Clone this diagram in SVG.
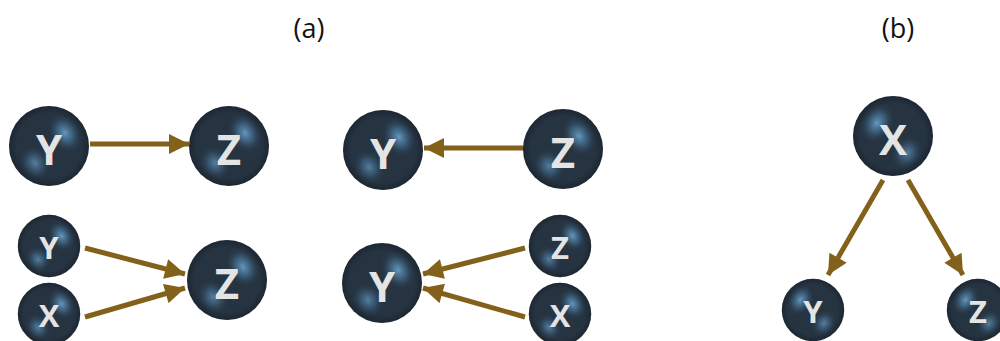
<svg xmlns="http://www.w3.org/2000/svg" xmlns:xlink="http://www.w3.org/1999/xlink" width="1000" height="341" viewBox="0 0 1000 341">
  <style>
    .cap { font-family: "Open Sans", "Liberation Sans", sans-serif; font-size: 27px; fill: #111; text-anchor: middle; }
    .lbl { font-family: "Open Sans", "DejaVu Sans", sans-serif; font-weight: 700; fill: #e4e4e4; text-anchor: middle; dominant-baseline: central; }
    .big { font-size: 42px; }
    .small { font-size: 31px; }
    .edge { stroke: #84611a; stroke-width: 5; fill: none; marker-end: url(#head); }
  </style>
  <defs>
    <radialGradient id="spot">
      <stop offset="0" stop-color="#6a9dc4" stop-opacity="0.95"/>
      <stop offset="0.45" stop-color="#4a7aa0" stop-opacity="0.6"/>
      <stop offset="1" stop-color="#2a3a4a" stop-opacity="0"/>
    </radialGradient>
    <radialGradient id="rim" cx="0.5" cy="0.5" r="0.5">
      <stop offset="0.8" stop-color="#000" stop-opacity="0"/>
      <stop offset="1" stop-color="#000" stop-opacity="0.25"/>
    </radialGradient>
    <!-- shaded ball, radius 40, light spots upper-right and lower-left -->
    <g id="ball">
      <circle r="40" fill="#263442"/>
      <ellipse cx="16" cy="-13" rx="16" ry="21" transform="rotate(-30 16 -13)" fill="url(#spot)"/>
      <ellipse cx="-14" cy="17" rx="15" ry="18" transform="rotate(-35 -14 17)" fill="url(#spot)" opacity="0.75"/>
      <circle r="40" fill="url(#rim)"/>
    </g>
    <marker id="head" viewBox="0 0 10 10" refX="10" refY="5" markerWidth="4.6" markerHeight="4" orient="auto" markerUnits="strokeWidth">
      <path d="M0,0 L10,5 L0,10 Z" fill="#84611a"/>
    </marker>
  </defs>

  <text class="cap" x="309" y="38">(a)</text>
  <text class="cap" x="898" y="38">(b)</text>

  <g id="connectors">
    <line class="edge" x1="90" y1="144" x2="189" y2="144"/>
    <line class="edge" x1="524" y1="148" x2="424" y2="148"/>
    <line class="edge" x1="85" y1="248" x2="185" y2="274"/>
    <line class="edge" x1="85" y1="317" x2="185" y2="288"/>
    <line class="edge" x1="525" y1="248" x2="423" y2="274"/>
    <line class="edge" x1="525" y1="317" x2="423" y2="288"/>
    <line class="edge" x1="883" y1="180" x2="828" y2="275"/>
    <line class="edge" x1="908" y1="180" x2="963" y2="275"/>
  </g>

  <g id="a1-y"><use xlink:href="#ball" transform="translate(49 146)"/><text class="lbl big" x="49" y="148">Y</text></g>
  <g id="a1-z"><use xlink:href="#ball" transform="translate(229 146)"/><text class="lbl big" x="229" y="148">Z</text></g>

  <g id="a2-y"><use xlink:href="#ball" transform="translate(383 150)"/><text class="lbl big" x="383" y="152">Y</text></g>
  <g id="a2-z"><use xlink:href="#ball" transform="translate(563 149)"/><text class="lbl big" x="563" y="151">Z</text></g>

  <g id="a3-y"><use xlink:href="#ball" transform="translate(49 246) scale(0.78)"/><text class="lbl small" x="49" y="247">Y</text></g>
  <g id="a3-x"><use xlink:href="#ball" transform="translate(49 314) scale(0.78)"/><text class="lbl small" x="49" y="315">X</text></g>
  <g id="a3-z"><use xlink:href="#ball" transform="translate(227 280)"/><text class="lbl big" x="227" y="282">Z</text></g>

  <g id="a4-y"><use xlink:href="#ball" transform="translate(382 283)"/><text class="lbl big" x="382" y="285">Y</text></g>
  <g id="a4-z"><use xlink:href="#ball" transform="translate(560 246) scale(0.78)"/><text class="lbl small" x="560" y="247">Z</text></g>
  <g id="a4-x"><use xlink:href="#ball" transform="translate(560 314) scale(0.78)"/><text class="lbl small" x="560" y="315">X</text></g>

  <g id="b-x"><use xlink:href="#ball" transform="translate(893 136) scale(-1 1)"/><text class="lbl big" x="893" y="138">X</text></g>
  <g id="b-y"><use xlink:href="#ball" transform="translate(813 310) scale(-0.78 0.78)"/><text class="lbl small" x="813" y="311">Y</text></g>
  <g id="b-z"><use xlink:href="#ball" transform="translate(978 310) scale(-0.78 0.78)"/><text class="lbl small" x="978" y="311">Z</text></g>
</svg>
